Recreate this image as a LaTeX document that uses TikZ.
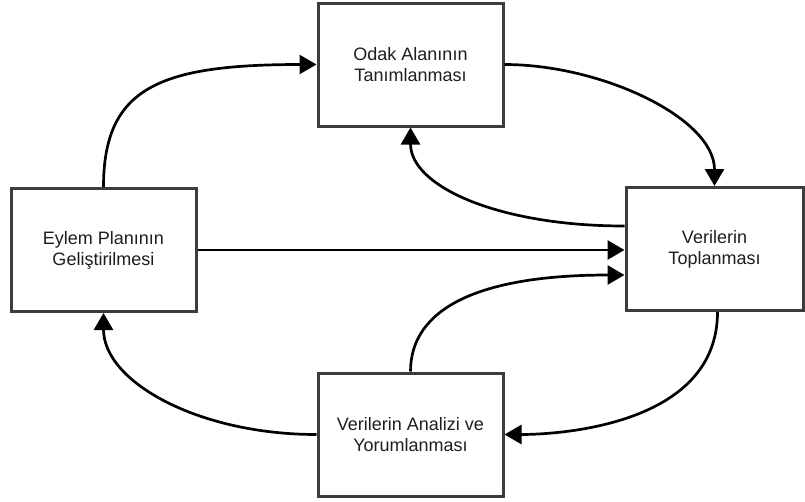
\documentclass[tikz,border=0pt]{standalone}
\usepackage{fontspec}
\setmainfont{Liberation Sans}
\usetikzlibrary{arrows.meta}
\definecolor{boxline}{RGB}{60,60,60}
\definecolor{txt}{RGB}{30,30,30}
\tikzset{
  stepbox/.style={draw=boxline, line width=3pt, fill=white, minimum width=185pt,
    minimum height=123pt, align=center, text=txt,
    font=\fontsize{18pt}{21pt}\selectfont, inner sep=0pt},
  flow/.style={draw=black, line width=2.7pt,
    -{Triangle[length=17pt,width=19pt]}},
}
\begin{document}
\begin{tikzpicture}[x=1pt,y=-1pt]
  \useasboundingbox (0,0) rectangle (805,501);
  % the four stages of the cycle
  \node[stepbox] (odak) at (410.5,64.5) {Odak Alanının\\Tanımlanması};
  \node[stepbox] (eylem) at (103.5,250) {Eylem Planının\\Geliştirilmesi};
  \node[stepbox, minimum width=177pt] (toplama) at (714.5,249) {Verilerin\\Toplanması};
  \node[stepbox] (analiz) at (410.5,434.5) {Verilerin Analizi ve\\Yorumlanması};

  % connectors
  \draw[flow] (eylem.north) .. controls +(0,-99) and +(-158,0) .. (odak.west);
  \draw[flow] (odak.east) .. controls +(97,0) and +(0,-68) .. (toplama.north);
  \draw[flow] ([yshift=23pt]toplama.west) .. controls +(-126,0) and +(0,59) .. (odak.south);
  \draw[flow] (eylem.east) -- (eylem.east -| toplama.west);
  \draw[flow] (analiz.north) .. controls +(0,-63) and +(-146,0) .. ([yshift=-26pt]toplama.west);
  \draw[flow] ([xshift=3pt]toplama.south) .. controls +(0,115) and +(50,0) .. (analiz.east);
  \draw[flow] (analiz.west) .. controls +(-118,0) and +(0,69) .. (eylem.south);
\end{tikzpicture}
\end{document}
